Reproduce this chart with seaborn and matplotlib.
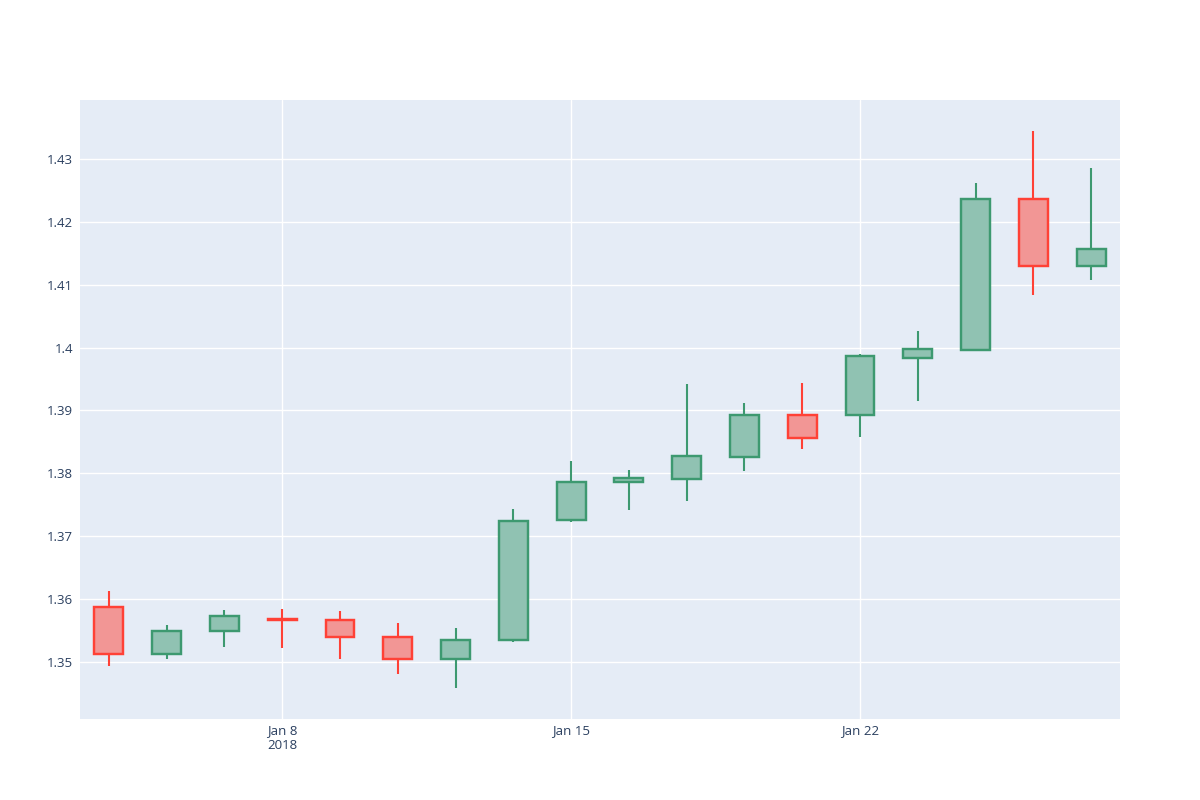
import pandas as pd
import numpy as np
import matplotlib
matplotlib.use("Agg")
import matplotlib.pyplot as plt
import seaborn as sns

# Trading days shown on the chart (weekends skipped)
dates = ["2018-01-03", "2018-01-04", "2018-01-05", "2018-01-08", "2018-01-09",
         "2018-01-10", "2018-01-11", "2018-01-12", "2018-01-15", "2018-01-16",
         "2018-01-17", "2018-01-18", "2018-01-19", "2018-01-22", "2018-01-23",
         "2018-01-24", "2018-01-25", "2018-01-26"]
opens = [1.3587, 1.3512, 1.3549, 1.3568, 1.3567, 1.3540, 1.3505, 1.3535, 1.3726,
         1.3786, 1.3791, 1.3826, 1.3892, 1.3892, 1.3984, 1.3996, 1.4236, 1.4130]
highs = [1.3612, 1.3559, 1.3582, 1.3584, 1.3581, 1.3561, 1.3554, 1.3743, 1.3819,
         1.3805, 1.3942, 1.3912, 1.3944, 1.3990, 1.4026, 1.4262, 1.4345, 1.4286]
lows = [1.3493, 1.3505, 1.3523, 1.3522, 1.3505, 1.3481, 1.3458, 1.3531, 1.3723,
        1.3741, 1.3756, 1.3804, 1.3838, 1.3857, 1.3915, 1.3996, 1.4083, 1.4107]
closes = [1.3513, 1.3549, 1.3573, 1.3566, 1.3539, 1.3505, 1.3535, 1.3724, 1.3786,
          1.3792, 1.3827, 1.3893, 1.3856, 1.3986, 1.3997, 1.4236, 1.4130, 1.4157]
tick_dates = ["2018-01-08", "2018-01-15", "2018-01-22"]
tick_labels = ["Jan 8\n2018", "Jan 15", "Jan 22"]
y_ticks = [1.35, 1.36, 1.37, 1.38, 1.39, 1.40, 1.41, 1.42, 1.43]

UP = "#3D9970"
DOWN = "#FF4136"
BG = "#E5ECF6"

df = pd.DataFrame({"date": pd.to_datetime(dates), "open": opens, "high": highs,
                   "low": lows, "close": closes})
df["pos"] = np.arange(len(df))
df["up"] = df["close"] >= df["open"]

sns.set_theme(style="darkgrid", rc={
    "axes.facecolor": BG,
    "grid.color": "white",
    "grid.linewidth": 1.0,
    "axes.edgecolor": BG,
})
plt.rcParams["font.family"] = ["Open Sans", "DejaVu Sans"]

fig, ax = plt.subplots(figsize=(12, 8), dpi=100)
fig.subplots_adjust(left=80 / 1200, right=1120 / 1200, top=1 - 100 / 800, bottom=1 - 719 / 800)

for up, color in [(True, UP), (False, DOWN)]:
    sub = df[df["up"] == up]
    ax.vlines(sub["pos"], sub["low"], sub["high"], color=color, linewidth=1.5, zorder=2)
    bottom = sub[["open", "close"]].min(axis=1)
    height = (sub["close"] - sub["open"]).abs()
    # solid background under translucent fill so wicks don't show through
    ax.bar(sub["pos"], height, bottom=bottom, width=0.5,
           facecolor=BG, edgecolor="none", linewidth=0, zorder=2.5)
    ax.bar(sub["pos"], height, bottom=bottom, width=0.5,
           facecolor=matplotlib.colors.to_rgba(color, 0.5),
           edgecolor=color, linewidth=1.75, zorder=3)

ax.set_xlim(-0.5, len(df) - 0.5)
ax.set_ylim(1.3409, 1.4394)

tick_pos = [df.index[df["date"] == pd.Timestamp(d)][0] for d in tick_dates]
ax.set_xticks(tick_pos)
ax.set_xticklabels(tick_labels, linespacing=1.1)
ax.set_yticks(y_ticks)
ax.set_yticklabels([f"{v:g}" for v in y_ticks])
ax.tick_params(axis="both", length=0, labelsize=9.5, colors="#2a3f5f")
ax.tick_params(axis="y", pad=5)
ax.tick_params(axis="x", pad=4)
ax.grid(True, color="white", linewidth=1.0)
ax.set_axisbelow(True)
for s in ax.spines.values():
    s.set_visible(False)

fig.savefig("out.png", dpi=100, facecolor="white")
